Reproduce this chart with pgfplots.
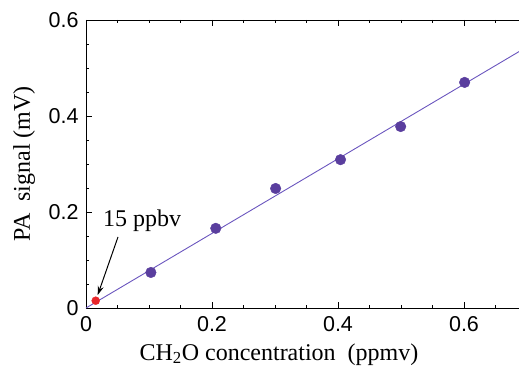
\documentclass[border=0pt]{standalone}
\usepackage{pgfplots}
\pgfplotsset{compat=1.18}
\usepackage{fontspec}
\setmainfont{Liberation Serif}
\newfontfamily\helv{Liberation Sans}
\usetikzlibrary{arrows.meta}
\definecolor{ptpurple}{HTML}{5A3E9E}
\definecolor{linepurple}{HTML}{6A55BE}
\definecolor{ptred}{HTML}{E8262B}
\begin{document}
\begin{tikzpicture}
\begin{axis}[
  at={(0,0)}, anchor=south west,
  scale only axis,
  width=441bp, height=288bp,
  xmin=0, xmax=0.7, ymin=0, ymax=0.6,
  axis lines=box,
  axis line style={line width=0.9pt},
  xtick={0,0.2,0.4,0.6},
  ytick={0,0.2,0.4,0.6},
  xticklabels={0,0.2,0.4,0.6},
  yticklabels={0,0.2,0.4,0.6},
  minor xtick={0.05,0.1,0.15,0.25,0.3,0.35,0.45,0.5,0.55,0.65},
  minor ytick={0.05,0.1,0.15,0.25,0.3,0.35,0.45,0.5,0.55},
  tick align=inside,
  major tick length=6bp,
  minor tick length=3.5bp,
  tick style={line width=0.8pt, black},
  ytick pos=left,
  xtick pos=both,
  ticklabel style={font=\helv\fontsize{21.5bp}{24bp}\selectfont},
  xticklabel style={yshift=-5bp},
  yticklabel style={xshift=-4bp},
  xlabel={CH\textsubscript{2}O concentration\ \ (ppmv)},
  ylabel={PA\ \ signal (mV)},
  label style={font=\fontsize{24bp}{28bp}\selectfont},
  xlabel style={at={(axis description cs:0.4376,-0.1806)}, anchor=base},
  ylabel style={at={(axis description cs:-0.127,0.5)}, anchor=base},
  clip=false,
]
\addplot[linepurple, line width=0.9pt] coordinates {(0,0) (0.7,0.544)};
\addplot[only marks, mark=*, mark size=5.3bp, ptpurple, mark options={draw=ptpurple, fill=ptpurple}] coordinates {
(0.103,0.074) (0.206,0.166) (0.301,0.249) (0.404,0.309) (0.4995,0.378) (0.601,0.470)};
\addplot[only marks, mark=*, mark size=4bp, ptred, mark options={draw=ptred, fill=ptred}] coordinates {(0.0154,0.0152)};
\draw[-{Stealth[length=9bp,width=6bp]}, line width=1pt, black] (axis cs:0.0508,0.148) -- (axis cs:0.0186,0.0271);
\node[anchor=base west, inner sep=0pt, font=\fontsize{24bp}{28bp}\selectfont] at (axis cs:0.027,0.169) {15 ppbv};
\end{axis}
\pgfresetboundingbox
\path (-86bp,-59bp) rectangle (433bp,308bp);
\end{tikzpicture}
\end{document}
